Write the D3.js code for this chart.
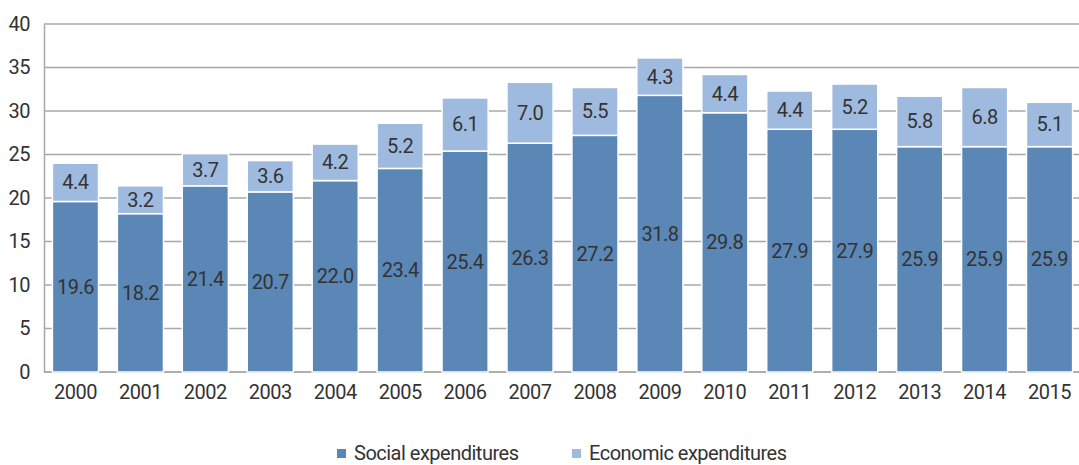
<!DOCTYPE html>
<html>
<head>
<meta charset="utf-8">
<script src="https://cdn.jsdelivr.net/npm/d3@7"></script>
<style>
	body { margin: 0; background: #fff; }
	text { font-family: "Liberation Sans Narrow", Roboto, sans-serif; fill: #333; letter-spacing: -0.5px; }
</style>
</head>
<body>
<svg id="chart"></svg>
<script>
var years = ["2000", "2001", "2002", "2003", "2004", "2005", "2006", "2007",
	"2008", "2009", "2010", "2011", "2012", "2013", "2014", "2015"];
var social = [19.6, 18.2, 21.4, 20.7, 22.0, 23.4, 25.4, 26.3, 27.2, 31.8, 29.8, 27.9, 27.9, 25.9, 25.9, 25.9];
var economic = [4.4, 3.2, 3.7, 3.6, 4.2, 5.2, 6.1, 7.0, 5.5, 4.3, 4.4, 4.4, 5.2, 5.8, 6.8, 5.1];
var yTicks = [0, 5, 10, 15, 20, 25, 30, 35, 40];
var seriesNames = ["Social expenditures", "Economic expenditures"];

var width = 1079, height = 465;
var c_social = "#5a87b6", c_econ = "#9fbadf";
var fs = "20px";

var svg = d3.select("#chart")
	.attr("width", width)
	.attr("height", height);

var x = d3.scaleBand()
	.domain(years)
	.range([43, 1082])
	.paddingInner(0.29)
	.paddingOuter(0.145);
var y = d3.scaleLinear()
	.domain([0, 40])
	.range([372, 24]);

// gridlines
svg.append("g")
	.selectAll("line")
	.data(yTicks)
	.enter()
	.append("line")
	.attr("x1", 44)
	.attr("x2", width)
	.attr("y1", function(d) { return y(d); })
	.attr("y2", function(d) { return y(d); })
	.style("stroke", "#a8a8a8")
	.style("stroke-width", 1.5);

var yAxis = d3.axisLeft(y).tickValues(yTicks).tickSize(0).tickPadding(14);
var gy = svg.append("g")
	.attr("transform", "translate(44,0)")
	.call(yAxis);
gy.select(".domain").style("stroke", "#a8a8a8").style("stroke-width", 1.5);
gy.selectAll("text").style("font-size", fs);

var xAxis = d3.axisBottom(x).tickSize(0).tickPadding(13);
var gx = svg.append("g")
	.attr("transform", "translate(0,372)")
	.call(xAxis);
gx.select(".domain").style("stroke", "#a8a8a8").style("stroke-width", 1.5).attr("d", "M44,0H" + width);
gx.selectAll("text").style("font-size", fs);

var rows = years.map(function(yr, i) { return { year: yr, s: social[i], e: economic[i] }; });

// bars
svg.selectAll(".bar")
	.data(rows)
	.enter()
	.append("rect")
	.attr("class", "bar")
	.attr("x", function(d) { return x(d.year); })
	.attr("y", function(d) { return y(d.s); })
	.attr("width", x.bandwidth())
	.attr("height", function(d) { return y(0) - y(d.s); })
	.style("fill", c_social)
	.style("stroke", "#fff")
	.style("stroke-width", 1.5);

svg.selectAll(".bar2")
	.data(rows)
	.enter()
	.append("rect")
	.attr("class", "bar2")
	.attr("x", function(d) { return x(d.year); })
	.attr("y", function(d) { return y(d.s + d.e); })
	.attr("width", x.bandwidth())
	.attr("height", function(d) { return y(d.s) - y(d.s + d.e); })
	.style("fill", c_econ)
	.style("stroke", "#fff")
	.style("stroke-width", 1.5);

// value labels
svg.selectAll(".lab")
	.data(rows)
	.enter()
	.append("text")
	.attr("class", "lab")
	.attr("x", function(d) { return x(d.year) + x.bandwidth() / 2; })
	.attr("y", function(d) { return y(d.s / 2); })
	.attr("dy", "0.35em")
	.style("text-anchor", "middle")
	.style("font-size", fs)
	.text(function(d) { return d.s.toFixed(1); });

svg.selectAll(".lab2")
	.data(rows)
	.enter()
	.append("text")
	.attr("class", "lab2")
	.attr("x", function(d) { return x(d.year) + x.bandwidth() / 2; })
	.attr("y", function(d) { return y(d.s + d.e / 2); })
	.attr("dy", "0.35em")
	.style("text-anchor", "middle")
	.style("font-size", fs)
	.text(function(d) { return d.e.toFixed(1); });

// legend
var legX = [337, 572];
var legend = svg.selectAll(".leg")
	.data(seriesNames)
	.enter()
	.append("g")
	.attr("class", "leg")
	.attr("transform", function(d, i) { return "translate(" + legX[i] + ",453)"; });
legend.append("rect")
	.attr("x", 0)
	.attr("y", -4)
	.attr("width", 9)
	.attr("height", 9)
	.style("fill", function(d, i) { return i == 0 ? c_social : c_econ; });
legend.append("text")
	.attr("x", 17)
	.attr("y", 0)
	.attr("dy", "0.35em")
	.style("font-size", fs)
	.text(function(d) { return d; });
</script>
</body>
</html>
